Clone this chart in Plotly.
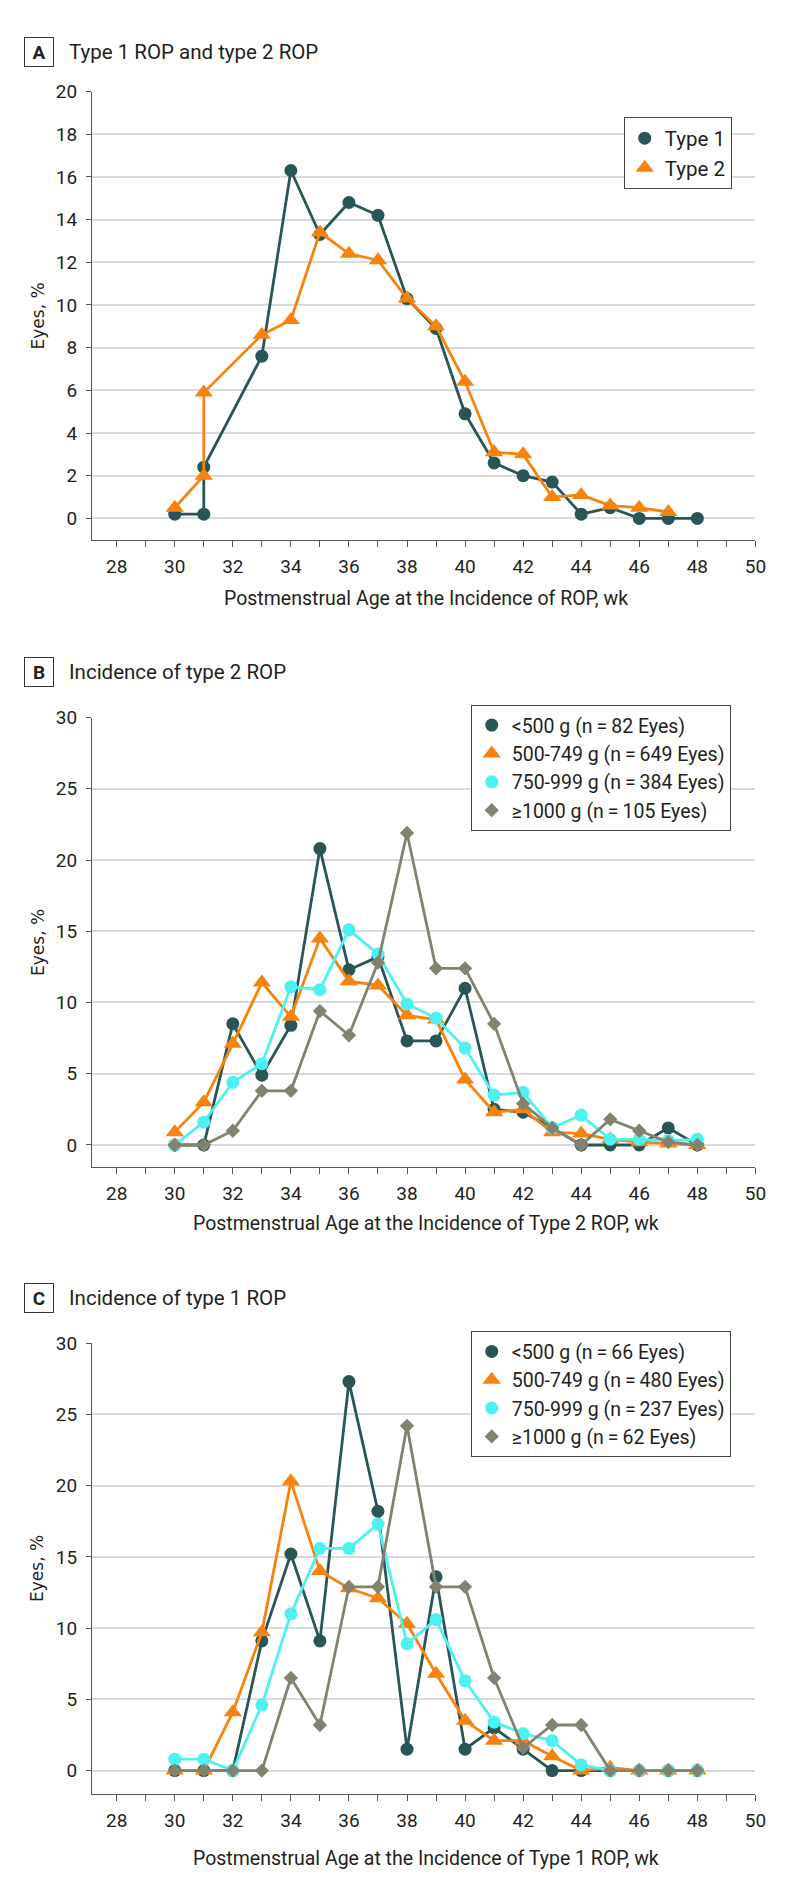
import plotly.graph_objects as go

# ---------------- data ----------------
weeks = [30, 31, 32, 33, 34, 35, 36, 37, 38, 39, 40, 41, 42, 43, 44, 45, 46, 47, 48]

# Panel A
a_weeks_type1 = [30, 31, 31, 33, 34, 35, 36, 37, 38, 39, 40, 41, 42, 43, 44, 45, 46, 47, 48]
a_type1 = [0.2, 0.2, 2.4, 7.6, 16.3, 13.3, 14.8, 14.2, 10.3, 8.9, 4.9, 2.6, 2.0, 1.7, 0.2, 0.5, 0, 0, 0]
a_weeks_type2 = [30, 31, 31, 33, 34, 35, 36, 37, 38, 39, 40, 41, 42, 43, 44, 45, 46, 47]
a_type2 = [0.5, 2.0, 5.9, 8.6, 9.3, 13.4, 12.4, 12.1, 10.3, 9.0, 6.4, 3.1, 3.0, 1.0, 1.1, 0.6, 0.5, 0.3]

# Panel B (type 2 ROP)
b_lt500 = [0, 0, 8.5, 4.9, 8.4, 20.8, 12.3, 13.2, 7.3, 7.3, 11.0, 2.5, 2.3, 1.2, 0, 0, 0, 1.2, 0]
b_500_749 = [0.9, 3.0, 7.1, 11.4, 9.0, 14.5, 11.5, 11.2, 9.1, 8.8, 4.6, 2.3, 2.5, 0.9, 0.8, 0.4, 0.2, 0.1, 0]
b_750_999 = [0, 1.6, 4.4, 5.7, 11.1, 10.9, 15.1, 13.4, 9.9, 8.9, 6.8, 3.5, 3.7, 1.2, 2.1, 0.4, 0.4, 0.3, 0.4]
b_ge1000 = [0, 0, 1.0, 3.8, 3.8, 9.4, 7.7, 12.8, 21.9, 12.4, 12.4, 8.5, 2.9, 1.2, 0, 1.8, 1.0, 0.2, 0]

# Panel C (type 1 ROP)
c_lt500 = [0, 0, 0, 9.1, 15.2, 9.1, 27.3, 18.2, 1.5, 13.6, 1.5, 3.0, 1.5, 0, 0, 0, 0, 0, 0]
c_500_749 = [0, 0, 4.1, 9.7, 20.3, 14.0, 12.8, 12.1, 10.3, 6.8, 3.5, 2.1, 2.1, 1.0, 0, 0.2, 0, 0, 0]
c_750_999 = [0.8, 0.8, 0, 4.6, 11.0, 15.6, 15.6, 17.3, 8.9, 10.6, 6.3, 3.4, 2.6, 2.1, 0.4, 0, 0, 0, 0]
c_ge1000 = [0, 0, 0, 0, 6.5, 3.2, 12.9, 12.9, 24.2, 12.9, 12.9, 6.5, 1.6, 3.2, 3.2, 0, 0, 0, 0]

a_names = ["Type 1", "Type 2"]
b_names = ["&lt;500 g (n\u2009=\u200982 Eyes)", "500-749 g (n\u2009=\u2009649 Eyes)",
           "750-999 g (n\u2009=\u2009384 Eyes)", "\u22651000 g (n\u2009=\u2009105 Eyes)"]
c_names = ["&lt;500 g (n\u2009=\u200966 Eyes)", "500-749 g (n\u2009=\u2009480 Eyes)",
           "750-999 g (n\u2009=\u2009237 Eyes)", "\u22651000 g (n\u2009=\u200962 Eyes)"]

panel_letters = ["A", "B", "C"]
panel_titles = ["Type 1 ROP and type 2 ROP", "Incidence of type 2 ROP", "Incidence of type 1 ROP"]
x_titles = ["Postmenstrual Age at the Incidence of ROP, wk",
            "Postmenstrual Age at the Incidence of Type 2 ROP, wk",
            "Postmenstrual Age at the Incidence of Type 1 ROP, wk"]

# ---------------- style ----------------
W, H = 794, 1878
DARK = "#2A5557"
ORANGE = "#F7830F"
CYAN = "#4FF0F0"
GRAY = "#83826F"
TXT = "#231F20"
AXC = "#555555"
GRID = "#DADADA"
FONT = "Roboto, 'Liberation Sans', sans-serif"

colors = [DARK, ORANGE, CYAN, GRAY]
symbols = ["circle", "triangle-up", "circle", "diamond"]
sizes = [13, 16, 13, 11]

def py(px):
    return 1 - px / H

x_dom = [93.3 / W, 766.0 / W]
panels = [  # top px, bottom px, y-range, dtick
    (81.0, 532.5, [-1.03, 20], 2),
    (710.7, 1163.3, [-1.58, 30], 5),
    (1340.0, 1793.3, [-1.63, 30], 5),
]

fig = go.Figure()

def add_series(x, y, i, xa, ya):
    fig.add_trace(go.Scatter(
        x=x, y=y, mode="lines+markers", showlegend=False,
        xaxis=xa, yaxis=ya,
        line=dict(color=colors[i], width=2.8),
        marker=dict(symbol=symbols[i], size=sizes[i], color=colors[i]),
    ))

def add_legend_item(name, i, legend):
    fig.add_trace(go.Scatter(
        x=[None], y=[None], mode="markers", name=name, legend=legend,
        marker=dict(symbol=symbols[i], size=sizes[i], color=colors[i]),
    ))

# Panel A
add_series(a_weeks_type1, a_type1, 0, "x", "y")
add_series(a_weeks_type2, a_type2, 1, "x", "y")
for i, n in enumerate(a_names):
    add_legend_item(n, i, "legend")

# Panel B
for i, s in enumerate([b_lt500, b_500_749, b_750_999, b_ge1000]):
    add_series(weeks, s, i, "x2", "y2")
for i, n in enumerate(b_names):
    add_legend_item(n, i, "legend2")

# Panel C
for i, s in enumerate([c_lt500, c_500_749, c_750_999, c_ge1000]):
    add_series(weeks, s, i, "x3", "y3")
for i, n in enumerate(c_names):
    add_legend_item(n, i, "legend3")

layout = dict(
    width=W, height=H,
    margin=dict(l=0, r=0, t=0, b=0, pad=0),
    paper_bgcolor="white", plot_bgcolor="white",
    font=dict(family=FONT, color=TXT, size=18),
    showlegend=True,
)

for k, (top, bot, yr, dt) in enumerate(panels):
    sfx = "" if k == 0 else str(k + 1)
    layout["xaxis" + sfx] = dict(
        domain=x_dom, anchor="y" + sfx, range=[27.15, 50],
        tick0=28, dtick=2, ticks="outside", ticklen=6, tickwidth=1, tickcolor=AXC,
        minor=dict(dtick=1, ticks="outside", ticklen=6, tickwidth=1, tickcolor=AXC, showgrid=False),
        showline=True, linecolor=AXC, linewidth=1, showgrid=False, zeroline=False,
        tickfont=dict(family=FONT, size=19, color=TXT), ticklabelstandoff=3,
    )
    layout["yaxis" + sfx] = dict(
        domain=[py(bot), py(top)], anchor="x" + sfx, range=yr,
        tick0=0, dtick=dt, ticks="outside", ticklen=5, tickwidth=1, tickcolor=AXC,
        showline=True, linecolor=AXC, linewidth=1,
        showgrid=True, gridcolor=GRID, gridwidth=2, zeroline=False,
        tickfont=dict(family=FONT, size=19, color=TXT), ticklabelstandoff=5,
    )

leg_common = dict(xref="paper", yref="paper", xanchor="right", yanchor="top",
                  bgcolor="white", bordercolor="#444444", borderwidth=1,
                  traceorder="normal", itemclick=False)
layout["legend"] = dict(x=742 / W, y=py(107), font=dict(family=FONT, size=20.5, color=TXT), **leg_common)
layout["legend2"] = dict(x=741 / W, y=py(698), font=dict(family=FONT, size=19.5, color=TXT), **leg_common)
layout["legend3"] = dict(x=741 / W, y=py(1328), font=dict(family=FONT, size=19.5, color=TXT), **leg_common)

annotations = []
title_centers = [41, 665, 1295]
xtitle_y = [591, 1220, 1858]
for k, (top, bot, yr, dt) in enumerate(panels):
    annotations.append(dict(
        text="<b>%s</b>" % panel_letters[k], xref="paper", yref="paper",
        x=40 / W, y=py(title_centers[k]), xanchor="center", yanchor="middle",
        showarrow=False, bordercolor="#333333", borderwidth=1, borderpad=0,
        width=28, height=28, font=dict(family=FONT, size=19, color=TXT)))
    annotations.append(dict(
        text=panel_titles[k], xref="paper", yref="paper",
        x=68 / W, y=py(title_centers[k]), xanchor="left", yanchor="middle",
        showarrow=False, font=dict(family=FONT, size=20.5, color=TXT)))
    annotations.append(dict(
        text=x_titles[k], xref="paper", yref="paper",
        x=432 / W, y=py(xtitle_y[k]), xanchor="center", yanchor="middle",
        showarrow=False, font=dict(family=FONT, size=19.5, color=TXT)))
    annotations.append(dict(
        text="Eyes, %", xref="paper", yref="paper", textangle=-90,
        x=38 / W, y=py((top + bot) / 2), xanchor="center", yanchor="middle",
        showarrow=False, font=dict(family="'DejaVu Sans', sans-serif", size=17, color=TXT)))
layout["annotations"] = annotations

fig.update_layout(**layout)

fig.write_html("out.html", config={"displayModeBar": False},
               post_script="document.body.style.margin='0';")
